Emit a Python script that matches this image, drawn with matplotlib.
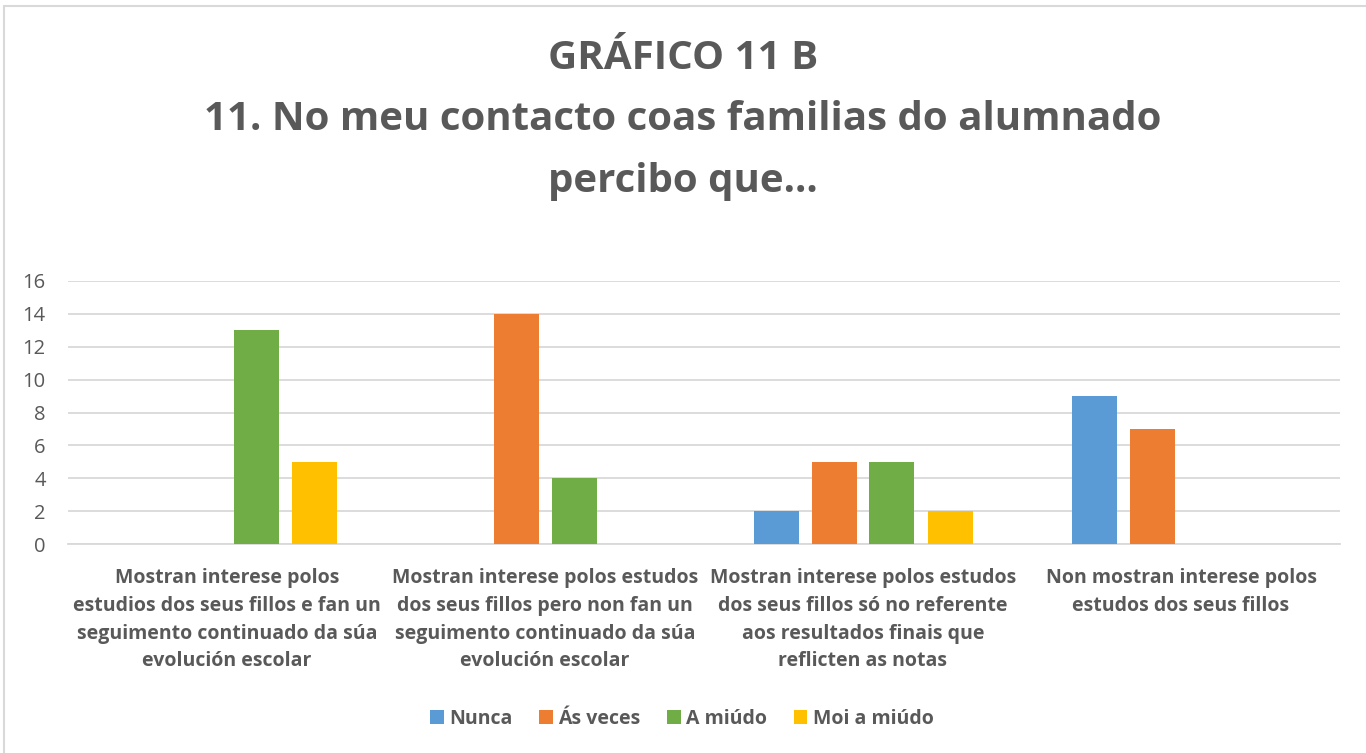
import matplotlib
matplotlib.use("Agg")
import matplotlib.pyplot as plt
from matplotlib.patches import Rectangle
import numpy as np

plt.rcParams['font.family'] = ['Open Sans', 'DejaVu Sans']

categories = [
    "Mostran interese polos\nestudios dos seus fillos e fan un\nseguimento continuado da súa\nevolución escolar",
    "Mostran interese polos estudos\ndos seus fillos pero non fan un\nseguimento continuado da súa\nevolución escolar",
    "Mostran interese polos estudos\ndos seus fillos só no referente\naos resultados finais que\nreflicten as notas",
    "Non mostran interese polos\nestudos dos seus fillos",
]
series_names = ["Nunca", "Ás veces", "A miúdo", "Moi a miúdo"]
nunca = [0, 0, 2, 9]
as_veces = [0, 14, 5, 7]
a_miudo = [13, 4, 5, 0]
moi_a_miudo = [5, 0, 2, 0]
yticks = [0, 2, 4, 6, 8, 10, 12, 14, 16]

colors = ["#5B9BD5", "#ED7D31", "#70AD47", "#FFC000"]
text_color = "#595959"
grid_color = "#D9D9D9"

W, H = 1366, 753
fig = plt.figure(figsize=(W / 100, H / 100), dpi=100)
fig.patch.set_facecolor("white")

# chart frame
fig.patches.append(Rectangle((4 / W, -0.05), 1.2, 1 - 6 / H + 0.05,
                             transform=fig.transFigure, fill=False,
                             edgecolor=grid_color, linewidth=1.5))

ax = fig.add_axes([68 / W, 1 - 544 / H, (1340 - 68) / W, (544 - 281) / H])

x = np.arange(len(categories))
bar_w = 45 / 318
step = 58 / 318
all_series = [nunca, as_veces, a_miudo, moi_a_miudo]
for k, (vals, name, c) in enumerate(zip(all_series, series_names, colors)):
    ax.bar(x + (k - 1.5) * step, vals, width=bar_w, color=c, label=name,
           zorder=3)

ax.set_xlim(-0.5, len(categories) - 0.5)
ax.set_ylim(0, 16)
ax.set_yticks(yticks)
ax.yaxis.grid(True, color=grid_color, linewidth=1.3, zorder=0)
ax.set_axisbelow(True)
for s in ["top", "right", "left"]:
    ax.spines[s].set_visible(False)
ax.spines["bottom"].set_color(grid_color)
ax.spines["bottom"].set_linewidth(1.3)
ax.tick_params(axis="y", length=0, pad=16, labelsize=14.5, labelcolor=text_color)
ax.tick_params(axis="x", length=0, pad=17)
ax.set_xticks(x)
ax.set_xticklabels(categories, fontsize=14, fontweight="bold",
                   color=text_color, linespacing=1.53, va="top")

fig.text(683 / W, 1 - 120 / H,
         "GRÁFICO 11 B\n11. No meu contacto coas familias do alumnado\npercibo que...",
         ha="center", va="center", fontsize=29, fontweight="bold",
         color=text_color, linespacing=1.75)

leg = ax.legend(loc="center", bbox_to_anchor=(682 / W, 1 - 719 / H),
                bbox_transform=fig.transFigure, ncol=4, frameon=False,
                handlelength=0.7, handleheight=0.7, handletextpad=0.3,
                columnspacing=1.35, prop={"size": 14, "weight": "bold"})
for t in leg.get_texts():
    t.set_color(text_color)

fig.savefig("out.png", dpi=100, facecolor="white")
